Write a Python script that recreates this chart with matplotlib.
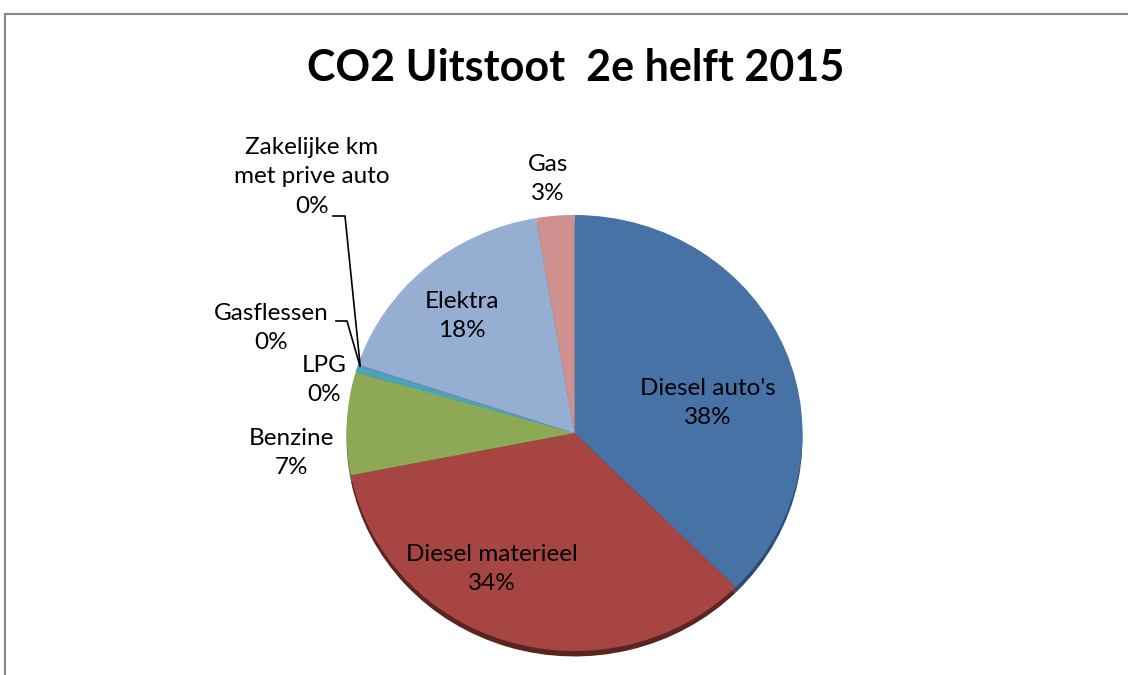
import numpy as np
import matplotlib.pyplot as plt

# --- data
labels = ["Diesel auto's", "Diesel materieel", "Benzine", "LPG", "Gasflessen",
          "Zakelijke km\nmet prive auto", "Elektra", "Gas"]
values = [37.5, 34.4, 7.6, 0.5, 0.05, 0.05, 17.2, 2.7]
pct_labels = ["38%", "34%", "7%", "0%", "0%", "0%", "18%", "3%"]
colors = ["#4672A5", "#A64542", "#8DA955", "#4BA3B9", "#5E8FC0", "#7FA0CC", "#97AED3", "#CE918F"]
shade = ["#2E4C73", "#5A2420", "#5C7036", "#2F6E7E", "#3E5E80", "#55708F", "#62789A", "#8C5C5B"]

W, H = 1128, 675
cx, cy, rx, ry = 574.5, 433, 228, 218

def px(x, y):
    return ((x - cx) / rx, (cy - y) / ry)

fig = plt.figure(figsize=(W / 100, H / 100), dpi=100)
ax = fig.add_axes([0, 0, 1, 1])

# --- shadow rim + pie
ax.pie(values, colors=shade, startangle=90, counterclock=False, radius=1,
       center=(0, -0.025), wedgeprops=dict(linewidth=0))
wedges, _ = ax.pie(values, colors=colors, startangle=90, counterclock=False, radius=1,
                   wedgeprops=dict(linewidth=0))
ax.set_aspect('auto')
ax.set_xlim(-cx / rx, (W - cx) / rx)
ax.set_ylim(-(H - cy) / ry, cy / ry)
ax.axis('off')

font = 'Lato'
lab_pos = [(708, 403), (492, 569), (291, 453), (324, 380), (271, 328),
           (312, 177), (462, 316), (548, 179)]
for lab, p, (x, y) in zip(labels, pct_labels, lab_pos):
    tx, ty = px(x, y)
    ax.text(tx, ty, lab + "\n" + p, ha='center', va='center', fontsize=17.5,
            family=font, linespacing=1.5, color='black')

# --- leader lines for tiny slices
leaders = {4: [(336, 321), (347, 321)], 5: [(333, 216), (345, 216)]}
for i, pts in leaders.items():
    w = wedges[i]
    mid = np.deg2rad((w.theta1 + w.theta2) / 2)
    ex, ey = np.cos(mid) * 0.99, np.sin(mid) * 0.99
    xs = [px(*pts[0])[0], px(*pts[1])[0], ex]
    ys = [px(*pts[0])[1], px(*pts[1])[1], ey]
    ax.plot(xs, ys, color='black', linewidth=1.2)

# --- title
fig.text(576 / W, 1 - 68 / H, "CO2 Uitstoot  2e helft 2015", ha='center', va='center',
         fontsize=31, fontweight='bold', family=font)

# --- chart frame
fig.add_artist(plt.Line2D([5 / W, 1], [1 - 14 / H, 1 - 14 / H], transform=fig.transFigure,
                          color='#868686', linewidth=1.5))
fig.add_artist(plt.Line2D([5 / W, 5 / W], [0, 1 - 14 / H], transform=fig.transFigure,
                          color='#868686', linewidth=1.5))

fig.savefig('out.png', dpi=100)
